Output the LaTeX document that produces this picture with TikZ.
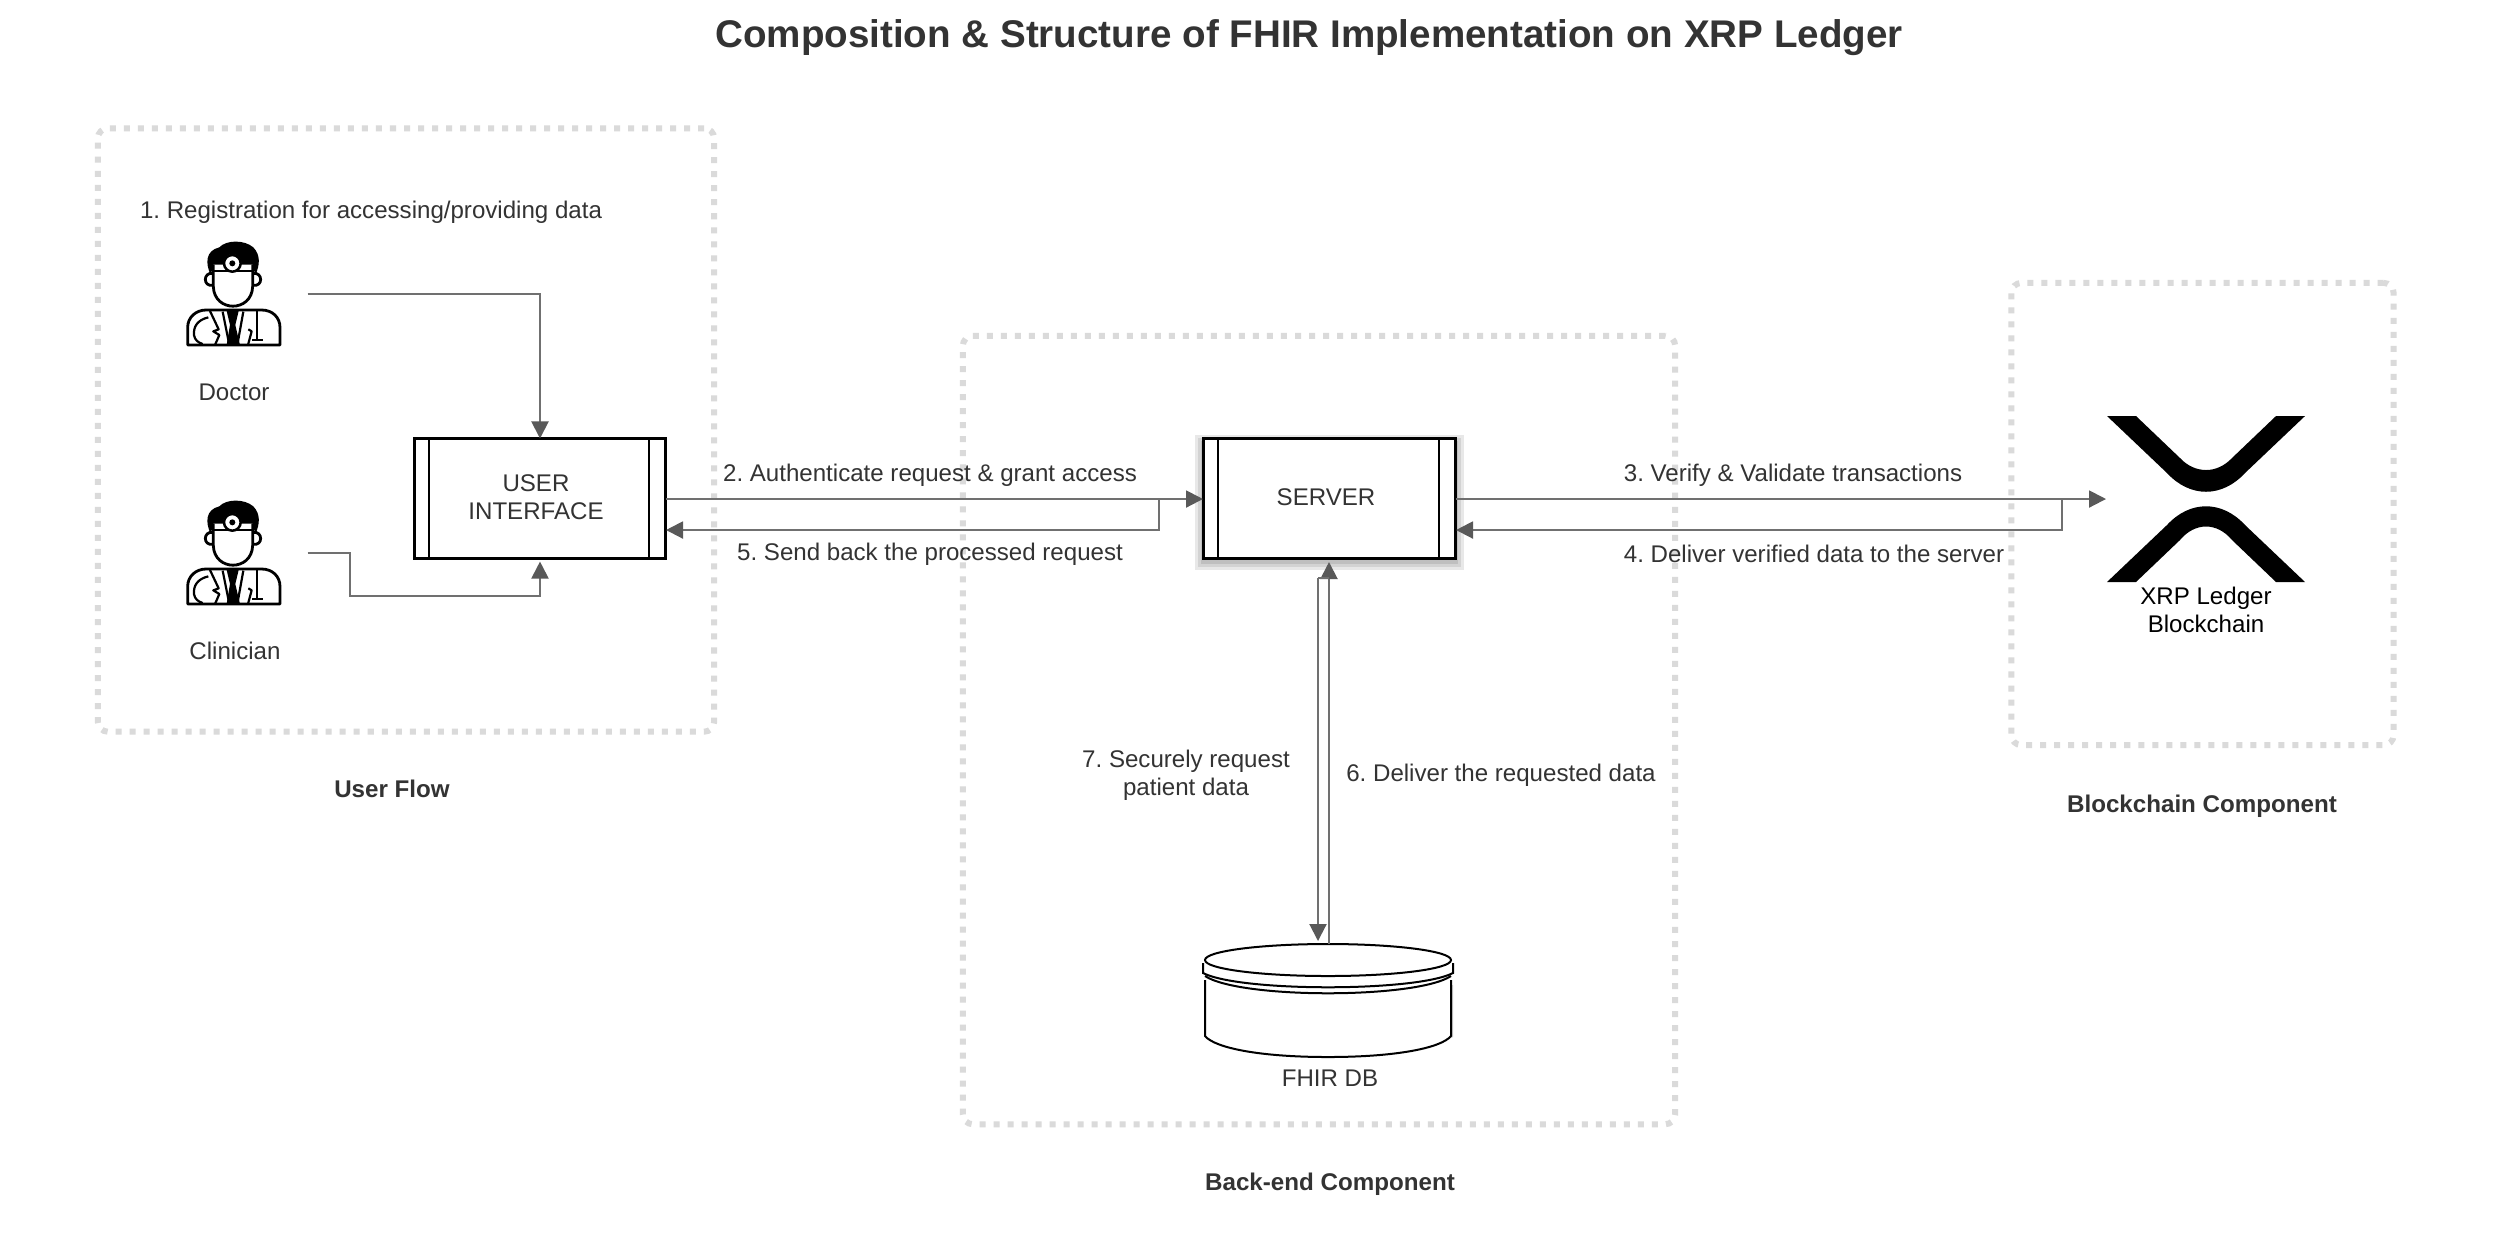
\documentclass[tikz,border=0pt]{standalone}
\usepackage{fontspec}
\setmainfont{Liberation Sans}
\usetikzlibrary{arrows.meta}
\frenchspacing
\definecolor{txt}{HTML}{333333}
\definecolor{dots}{HTML}{DADADA}
\definecolor{lnk}{HTML}{707070}
\definecolor{tipc}{HTML}{595959}
\newcommand{\fsN}{\fontsize{6.85pt}{8.2pt}\selectfont}
\tikzset{
  group/.style={draw=dots,line width=.06cm,dash pattern=on .06cm off .08cm,rounded corners=.1cm},
  lab/.style={text=txt,font=\fsN,inner sep=0pt,align=center,yshift=-.01cm},
  head/.style={text=txt,font=\fontsize{6.87pt}{8.2pt}\selectfont\bfseries,inner sep=0pt,align=center,yshift=-.01cm},
  ttl/.style={text=txt,font=\fontsize{10.97pt}{13pt}\selectfont\bfseries,inner sep=0pt},
  proc/.style={draw=black,line width=.03cm,fill=white,minimum width=2.51cm,minimum height=1.2cm,inner sep=0pt,outer sep=0pt},
  ghost/.style={inner sep=0pt},
  link/.style={draw=lnk,line width=.02cm,-{Triangle[length=.17cm,width=.17cm,color=tipc,fill=tipc]}},
  linkp/.style={draw=lnk,line width=.02cm},
  icon/.style={line width=.028cm,draw=black,fill=none,line join=round},
  docfig/.pic={
    % hair
    \fill[black] (152,135) .. controls (136,100) and (136,62) .. (178,52) .. controls (198,30) and (252,28) .. (280,52) .. controls (302,75) and (300,105) .. (286,135) -- (278,104) -- (160,104) -- cycle;
    % face
    \draw[icon] (160,123) -- (278,123);
    \draw[icon] (160,104) -- (160,170) .. controls (163,248) and (275,248) .. (278,170) -- (278,104);
    % ears
    \draw[icon] (160,130) .. controls (128,125) and (128,172) .. (160,166);
    \draw[icon] (278,130) .. controls (310,125) and (310,172) .. (278,166);
    % mirror
    \fill[white] (217,100) circle (27);
    \draw[icon,line width=.025cm] (217,100) circle (25);
    \fill[black] (217,100) circle (9);
    % coat
    \draw[icon] (83,345) -- (83,292) .. controls (83,262) and (108,240) .. (138,240) -- (305,240) .. controls (337,240) and (360,262) .. (360,292) -- (360,345) -- cycle;
    % tie
    \fill[black] (200,243) -- (236,243) -- (226,285) -- (240,345) -- (200,345) -- (210,285) -- cycle;
    % lapels
    \draw[icon,line width=.022cm] (150,243) -- (176,298) -- (160,304) -- (178,315) -- (165,345);
    \draw[icon,line width=.022cm] (188,245) -- (208,345);
    \draw[icon,line width=.022cm] (250,245) -- (232,345);
    \draw[icon,line width=.022cm] (265,298) -- (275,304) -- (264,345);
    % stethoscope
    \draw[icon,line width=.022cm] (145,262) .. controls (112,270) and (100,290) .. (102,315) .. controls (104,330) and (115,338) .. (128,342);
    \draw[icon,line width=.022cm] (292,243) -- (292,330) -- (275,330) (292,330) -- (310,330);
  }
}
\begin{document}
\begin{tikzpicture}[x=.01cm,y=-.01cm]
\useasboundingbox (0,0) rectangle (2496,1256);
\fill[white] (0,0) rectangle (2496,1256);
\node[ttl] (title) at (1309,38) {Composition \& Structure of FHIR Implementation on XRP Ledger};
% group frames
\node[group,minimum width=6.16cm,minimum height=6.03cm,inner sep=0pt] (gUser) at (406,430) {};
\node[group,minimum width=7.12cm,minimum height=7.88cm,inner sep=0pt] (gBack) at (1319,730) {};
\node[group,minimum width=3.82cm,minimum height=4.62cm,inner sep=0pt] (gChain) at (2202.5,514) {};
\node[head] (hUser) at (392,788) {User Flow};
\node[head] (hBack) at (1330,1183) {Back-end Component};
\node[head] (hChain) at (2202,805) {Blockchain Component};
% people
\pic[scale=.3333] at (160,230) {docfig};
\pic[scale=.3333] at (160,489) {docfig};
\node[ghost,minimum width=1.48cm] (doctor) at (233,294) {};
\node[ghost,minimum width=1.48cm] (clinician) at (233,553) {};
\node[lab] (step1) at (371,211) {1. Registration for accessing/providing data};
\node[lab] (ldoc) at (234,391) {Doctor};
\node[lab] (lclin) at (235,650) {Clinician};
% boxes
\node[proc] (ui) at (540,498.5) {};
\draw[line width=.02cm] (429,438) -- (429,559) (649,438) -- (649,559);
\node[lab] (uit) at (536,496) {USER\\[-.1pt]INTERFACE};
\foreach \e in {8,5,2} \fill[black,opacity=.09] (1203-\e,443-\e) rectangle (1456+\e,562+\e);
\node[proc] (server) at (1329.5,498.5) {};
\draw[line width=.02cm] (1218,438) -- (1218,559) (1439,438) -- (1439,559);
\node[lab] (servert) at (1326,496) {SERVER};
% database
\node[ghost,minimum width=2.5cm,minimum height=1.13cm] (db) at (1328,1000.5) {};
\fill[black!18] (1207,985) -- (1207,1037) .. controls (1250,1062) and (1406,1062) .. (1453,1037) -- (1453,985) -- cycle;
\draw[black,line width=.02cm,fill=white] (1205,980) -- (1205,1036) .. controls (1215,1048) and (1260,1057) .. (1328,1057) .. controls (1396,1057) and (1441,1048) .. (1451,1036) -- (1451,980);
\draw[black,line width=.02cm,fill=white] (1205,976) .. controls (1240,999) and (1416,999) .. (1451,976);
\draw[black,line width=.02cm,fill=white] (1203,963) -- (1203,973) .. controls (1240,992) and (1416,992) .. (1453,973) -- (1453,963);
\draw[black,line width=.02cm,fill=white] (1328,960) ellipse (123 and 16);
\node[lab] (ldb) at (1330,1077) {FHIR DB};
% XRP logo
\fill[black] (2107,416) -- (2136,416) -- (2180,458) .. controls (2195,474) and (2217,474) .. (2232,458) -- (2276,416) -- (2305,416) -- (2245,473) .. controls (2222,498) and (2190,498) .. (2167,473) -- cycle;
\fill[black] (2107,582) -- (2136,582) -- (2180,540) .. controls (2195,522) and (2217,522) .. (2232,540) -- (2276,582) -- (2305,582) -- (2245,525) .. controls (2222,500) and (2190,500) .. (2167,525) -- cycle;
\coordinate (xrp) at (2106,499);
\node[lab,text=black] (lxrp) at (2206,609) {XRP Ledger\\[-.1pt]Blockchain};
% connectors
\draw[link] (doctor.east) -| (ui.north);
\coordinate (cbend) at (350,596);
\draw[link,shorten >=.03cm] (clinician.east) -| (cbend) -| (ui.south);
\coordinate (e2) at (1159,499);
\coordinate (e3) at (2062,499);
\coordinate (u2) at (666,499);
\coordinate (s2) at (1203,499);
\coordinate (s3) at (1456,499);
\coordinate (u5) at (666,530);
\coordinate (s4) at (1456,530);
\draw[link] (u2) -- (s2);
\draw[link] (e2) |- (u5);
\draw[link] (s3) -- (xrp);
\draw[link] (e3) |- (s4);
\node[lab] (step2) at (930,474.5) {2. Authenticate request \& grant access};
\node[lab] (step5) at (930,553.5) {5. Send back the processed request};
\node[lab] (step3) at (1793,474.5) {3. Verify \& Validate transactions};
\node[lab] (step4) at (1814,553) {4. Deliver verified data to the server};
\coordinate (dbr) at (1329,944);
\coordinate (srv) at (1329,559);
\coordinate (vj) at (1329,578);
\coordinate (vl) at (1318,578);
\coordinate (vb) at (1318,941);
\draw[link,shorten >=.03cm] (dbr) -- (srv);
\draw[linkp] (vj) -- (vl);
\draw[link] (vl) -- (vb);
\node[lab] (step7) at (1186,774) {7. Securely request\\[-.1pt]patient data};
\node[lab] (step6) at (1501,774) {6. Deliver the requested data};
\end{tikzpicture}
\end{document}
